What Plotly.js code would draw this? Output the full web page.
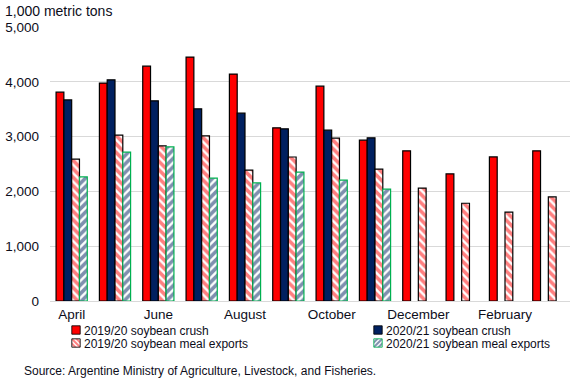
<!DOCTYPE html>
<html>
<head>
<meta charset="utf-8">
<script src="https://cdn.plot.ly/plotly-3.0.1.min.js"></script>
<style>
html,body{margin:0;padding:0;background:#fff;}
#chart{width:579px;height:389px;}
#chart g.legendpoints{transform-box:fill-box;transform-origin:center;transform:translateX(12px) scale(0.7);}
</style>
</head>
<body>
<div id="chart"></div>
<script>
const months = ["April","May","June","July","August","September","October","November","December","January","February","March"];
const labelledMonths = ["April","June","August","October","December","February"];
const crush1920 = [3810, 3976, 4286, 4451, 4141, 3160, 3921, 2935, 2740, 2320, 2630, 2740];
const crush2021 = [3670, 4036, 3653, 3507, 3428, 3142, 3117, 2977, null, null, null, null];
const meal1920 = [2588, 3026, 2831, 3014, 2387, 2628, 2971, 2405, 2061, 1784, 1620, 1900];
const meal2021 = [2265, 2716, 2813, 2241, 2155, 2352, 2204, 2040, null, null, null, null];

const RED = "#ff0000", NAVY = "#002060", GREEN = "#00b050";
const fontFam = "Liberation Sans, Arial, sans-serif";
const txt = "#0d0d1a";

const traces = [
  {type:"bar", name:"2019/20 soybean crush", x:months, y:crush1920, legend:"legend",
   marker:{color:RED, line:{color:"#000", width:1.2}}},
  {type:"bar", name:"2020/21 soybean crush", x:months, y:crush2021, legend:"legend2",
   marker:{color:NAVY, line:{color:"#000", width:1.2}}},
  {type:"bar", name:"2019/20 soybean meal exports", x:months, y:meal1920, legend:"legend3",
   marker:{color:"#fff", line:{color:"#000", width:1.2},
     pattern:{shape:"\\", fgcolor:RED, bgcolor:"#fff", size:6, solidity:0.6, fillmode:"overlay"}}},
  {type:"bar", name:"2020/21 soybean meal exports", x:months, y:meal2021, legend:"legend4",
   marker:{color:"#fff", line:{color:GREEN, width:1.2},
     pattern:{shape:"/", fgcolor:NAVY, bgcolor:"#fff", size:6, solidity:0.6, fillmode:"overlay"}}}
];

const legFont = {family:fontFam, size:12, color:txt};
function leg(x, y){
  return {x:x, y:y, xanchor:"left", yanchor:"middle", orientation:"h",
    font:legFont, bgcolor:"rgba(0,0,0,0)", itemwidth:30, traceorder:"normal"};
}
const H = 389, T = 27, B = 88, L = 50, R = 9;
const ph = H - T - B, pw = 579 - L - R;
function py(pix){ return (H - B - pix) / ph; }
function px(pix){ return (pix - L) / pw; }

const layout = {
  width:579, height:389,
  margin:{l:L, r:R, t:T, b:B},
  paper_bgcolor:"#fff", plot_bgcolor:"#fff",
  font:{family:fontFam, size:13, color:txt},
  barmode:"group", bargap:0.28, bargroupgap:0,
  title:{text:"1,000 metric tons", font:{family:fontFam, size:14, color:txt},
    x:5/579, xref:"container", xanchor:"left", y:1-11/389, yref:"container", yanchor:"middle"},
  xaxis:{type:"category", tickvals:labelledMonths, ticks:"outside", ticklen:1, tickcolor:"rgba(0,0,0,0)",
    showgrid:false, showline:false, zeroline:false, tickfont:{family:fontFam, size:13.5, color:txt}},
  yaxis:{range:[0,5000], dtick:1000, tickformat:",", showgrid:true, gridcolor:"#d9d9d9",
    gridwidth:1, zeroline:true, zerolinecolor:"#d9d9d9", zerolinewidth:1, showline:false,
    ticks:"", ticklabelstandoff:10, tickfont:{family:fontFam, size:13.5, color:txt}},
  showlegend:true,
  legend: leg(px(44), py(330)),
  legend2: leg(px(346), py(330)),
  legend3: leg(px(44), py(343)),
  legend4: leg(px(346), py(343)),
  annotations:[{text:"Source: Argentine Ministry of Agriculture, Livestock, and Fisheries.",
    xref:"paper", yref:"paper", x:px(22), y:py(371), xanchor:"left", yanchor:"middle",
    showarrow:false, font:{family:fontFam, size:12, color:txt}}]
};

Plotly.newPlot("chart", traces, layout, {displayModeBar:false, staticPlot:true});
</script>
</body>
</html>
